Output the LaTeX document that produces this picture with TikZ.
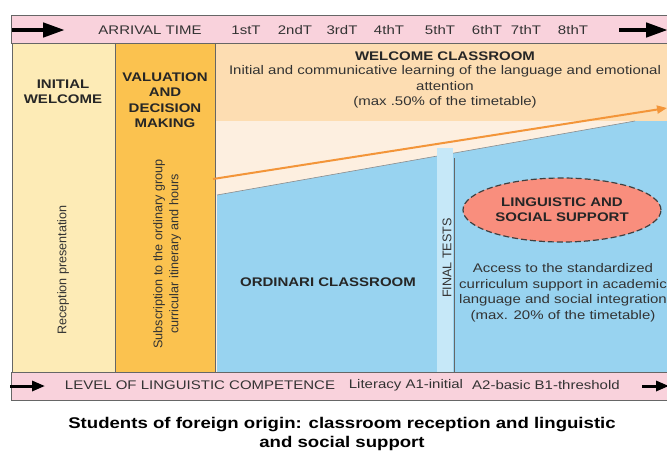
\documentclass[tikz,border=0pt]{standalone}
\usepackage{fontspec}
\setmainfont{Liberation Sans}[FakeStretch=1.2]
\newfontfamily\uprightfont{Liberation Sans}
\usepackage{tikz}
\usetikzlibrary{shapes.geometric,arrows.meta,calc,positioning}
\definecolor{barpink}{HTML}{F9D2DC}
\definecolor{initialyellow}{HTML}{FDEBB6}
\definecolor{valorange}{HTML}{FBC24F}
\definecolor{welcomepeach}{HTML}{FDDDB2}
\definecolor{creampale}{HTML}{FDEFE0}
\definecolor{ordinariblue}{HTML}{98D3F0}
\definecolor{testblue}{HTML}{C6E8F8}
\definecolor{supportred}{HTML}{F98E7D}
\definecolor{progressorange}{HTML}{F39539}
\definecolor{textgray}{HTML}{333333}
\tikzset{
  bar/.style={draw=black!60, fill=barpink, line width=1.2pt, anchor=north west, inner sep=0pt, minimum width=700pt, minimum height=28pt},
  region/.style={anchor=north west, inner sep=0pt},
  sepline/.style={draw=black!60, line width=1pt},
  bartext/.style={font=\fontsize{12.5}{14}\selectfont, text=textgray},
  head/.style={font=\fontsize{12.5}{15.5}\selectfont\bfseries, align=center, text=black!85},
  body/.style={font=\fontsize{12.5}{15.5}\selectfont, align=center, text=textgray},
  sidetext/.style={font=\uprightfont\fontsize{12.6}{16}\selectfont, align=center, text=textgray, rotate=90},
  fatarrow/.style={line width=4.5pt, -{Triangle[length=22pt,width=14pt]}},
  thinarrow/.style={line width=3pt, -{Triangle[length=13pt,width=10pt]}},
  progressarrow/.style={draw=progressorange, line width=2pt, -{Triangle[length=10pt,width=8pt]}},
  support/.style={ellipse, draw=black!75, dash pattern=on 6pt off 3pt, fill=supportred, line width=1.2pt, minimum width=186pt, minimum height=64pt, align=center, font=\fontsize{12.5}{15}\selectfont\bfseries, text=black!85},
  captiontext/.style={font=\fontsize{15.5}{19}\selectfont\bfseries, align=center, text=black}
}
\begin{document}
\begin{tikzpicture}[x=1pt, y=-1pt]
\clip (0,0) rectangle (667,451);

% columns and classrooms
\node[region, fill=initialyellow, minimum width=103pt, minimum height=328pt] (initial) at (12,44) {};
\node[region, fill=valorange, minimum width=100pt, minimum height=328pt] (valuation) at (115,44) {};
\node[region, fill=welcomepeach, minimum width=460pt, minimum height=77pt] (welcome) at (215,44) {};
\node[region, fill=creampale, minimum width=460pt, minimum height=251pt] (gap) at (215,121) {};
\coordinate (risestart) at (217,195);
\coordinate (riseend) at (635,121);
\fill[ordinariblue] (risestart) -- (riseend) -- (680,121) -- (680,372) -- (217,372) -- cycle;
\draw[black!45, line width=0.6pt] (risestart) -- (riseend);
\node[region, fill=testblue, minimum width=16pt, minimum height=224pt] (tests) at (437,148) {};
\coordinate (testtop) at (454,158);
\coordinate (testfoot) at (454,372);
\draw[sepline] (testtop) -- (testfoot);
\draw[sepline] (initial.north west) -- (initial.south west);
\draw[sepline] (initial.north east) -- (initial.south east);
\draw[sepline] (valuation.north east) -- (valuation.south east);

% progression
\coordinate (progress0) at (213,179);
\coordinate (progress1) at (667,108);
\draw[progressarrow] (progress0) -- (progress1);

% bars
\node[bar] (timebar) at (11,15) {};
\node[bar] (levelbar) at (11,372) {};
\coordinate (timeL0) at (12,30);
\coordinate (timeL1) at (65,30);
\coordinate (timeR0) at (619,30);
\coordinate (timeR1) at (668,30);
\draw[fatarrow] (timeL0) -- (timeL1);
\draw[fatarrow] (timeR0) -- (timeR1);
\coordinate (levelL0) at (10,386);
\coordinate (levelL1) at (45,386);
\coordinate (levelR0) at (642,386);
\coordinate (levelR1) at (669,386);
\draw[thinarrow] (levelL0) -- (levelL1);
\draw[thinarrow] (levelR0) -- (levelR1);

\node[bartext] (arrival) at (150,30) {ARRIVAL TIME};
\foreach \lbl/\xx [count=\i] in {1stT/246, 2ndT/295, 3rdT/342, 4thT/389, 5thT/440, 6thT/487, 7thT/526, 8thT/573}
  \node[bartext] (term\i) at (\xx,30) {\lbl};
\node[bartext] (level) at (200,385) {LEVEL OF LINGUISTIC COMPETENCE};
\node[bartext] (literacy) at (406,385) {Literacy A1-initial};
\node[bartext] (basic) at (546,385) {A2-basic B1-threshold};

% texts
\node[head] (initialtitle) at (63,92) {INITIAL\\WELCOME};
\node[head] (valuationtitle) at (165,100) {VALUATION\\AND\\DECISION\\MAKING};
\node[sidetext] (reception) at (63,270) {Reception presentation};
\node[sidetext] (subscription) at (167,254) {Subscription to the ordinary group\\curricular itinerary and hours};
\node[head] (welcometitle) at (445,56) {WELCOME CLASSROOM};
\node[body] (welcometext) at (445,87) {Initial and communicative learning of the language and emotional\\attention\\(max .50\% of the timetable)};
\node[head] (ordinari) at (328,282) {ORDINARI CLASSROOM};
\node[sidetext] (finaltests) at (447,258) {FINAL TESTS};
\node[support] (support) at (562,210) {LINGUISTIC AND\\SOCIAL SUPPORT};
\node[body] (access) at (563,293) {Access to the standardized\\curriculum support in academic\\language and social integration\\(max. 20\% of the timetable)};

\node[captiontext] (caption) at (342,434) {Students of foreign origin: classroom reception and linguistic\\and social support};
\end{tikzpicture}
\end{document}
